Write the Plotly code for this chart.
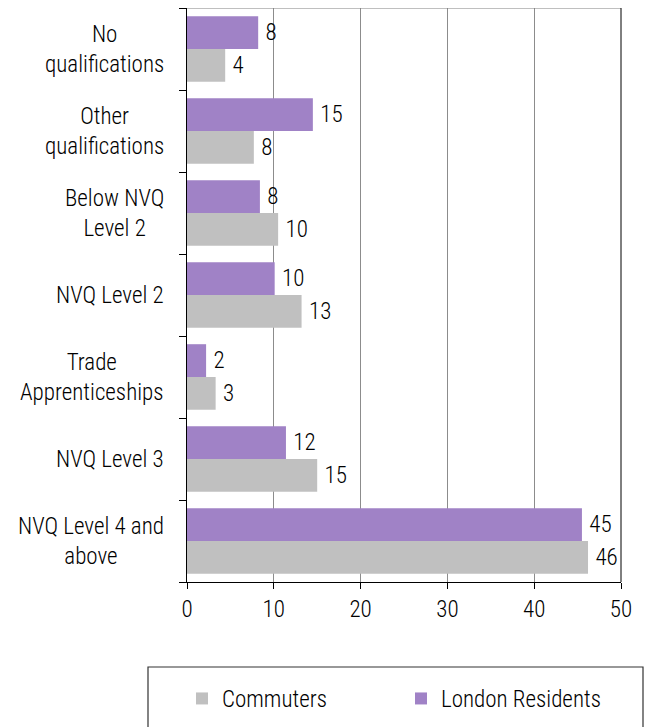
import plotly.graph_objects as go

categories = ["No<br>qualifications", "Other<br>qualifications", "Below NVQ<br>Level 2",
              "NVQ Level 2", "Trade<br>Apprenticeships", "NVQ Level 3",
              "NVQ Level 4 and<br>above"]
commuters = [4.4, 7.7, 10.5, 13.2, 3.3, 15.0, 46.2]
commuters_labels = ["4", "8", "10", "13", "3", "15", "46"]
london = [8.2, 14.5, 8.4, 10.1, 2.2, 11.4, 45.5]
london_labels = ["8", "15", "8", "10", "2", "12", "45"]
x_ticks = [0, 10, 20, 30, 40, 50]

FONT = "Roboto Condensed, Open Sans, sans-serif"
FS = 23
WT = 300
TXT = "#000000"

W, H = 645, 719          # page adds an 8px body margin
L, T, PW, PH = 179, 0, 434, 574


def fnt():
    return dict(family=FONT, size=FS, color=TXT, weight=WT)


fig = go.Figure()
fig.add_trace(go.Bar(
    y=categories, x=commuters, orientation="h", name="Commuters",
    marker=dict(color="#C0C0C0", line=dict(width=0)),
    text=commuters_labels, texttemplate="\u2009%{text}",
    textposition="outside", cliponaxis=False, textfont=fnt(),
))
fig.add_trace(go.Bar(
    y=categories, x=london, orientation="h", name="London Residents",
    marker=dict(color="#A082C6", line=dict(width=0)),
    text=london_labels, texttemplate="\u2009%{text}",
    textposition="outside", cliponaxis=False, textfont=fnt(),
))

annotations = [
    dict(xref="paper", yref="y", x=-0.048, y=c, text=c, showarrow=False,
         xanchor="right", yanchor="middle", align="center", font=fnt())
    for c in categories
]

fig.update_layout(
    width=W, height=H,
    margin=dict(l=L, r=W - L - PW, t=T, b=H - T - PH, autoexpand=False),
    paper_bgcolor="white", plot_bgcolor="white",
    barmode="group", bargap=0.2, bargroupgap=0,
    font=fnt(),
    showlegend=True,
    legend=dict(orientation="h", xref="container", yref="container",
                x=174 / W, xanchor="left", y=(H - 669) / H, yanchor="top",
                font=fnt(), entrywidth=174, itemwidth=30, traceorder="normal",
                bgcolor="rgba(0,0,0,0)"),
    xaxis=dict(range=[0, 50], tickvals=x_ticks, ticks="outside", ticklen=6,
               tickcolor="black", showline=True, linecolor="black", linewidth=1,
               showgrid=True, gridcolor="#8c8c8c", gridwidth=1, zeroline=False,
               automargin=False, tickfont=fnt()),
    yaxis=dict(categoryorder="array", categoryarray=categories[::-1],
               ticks="outside", ticklen=7, tickson="boundaries", tickcolor="black",
               showline=True, linecolor="black", linewidth=1, showticklabels=False,
               automargin=False),
    annotations=annotations,
    shapes=[
        dict(type="line", xref="paper", yref="paper", x0=0, x1=1, y0=1, y1=1,
             line=dict(color="#808080", width=1)),
        dict(type="line", xref="paper", yref="paper", x0=1, x1=1, y0=0, y1=1,
             line=dict(color="black", width=1)),
        dict(type="rect", xref="paper", yref="paper",
             x0=(148 - 187) / PW, x1=(643 - 187) / PW,
             y0=(582 - 740) / PH, y1=(582 - 667) / PH,
             line=dict(color="#333333", width=1.2)),
    ],
)

fig.write_html("out.html")
